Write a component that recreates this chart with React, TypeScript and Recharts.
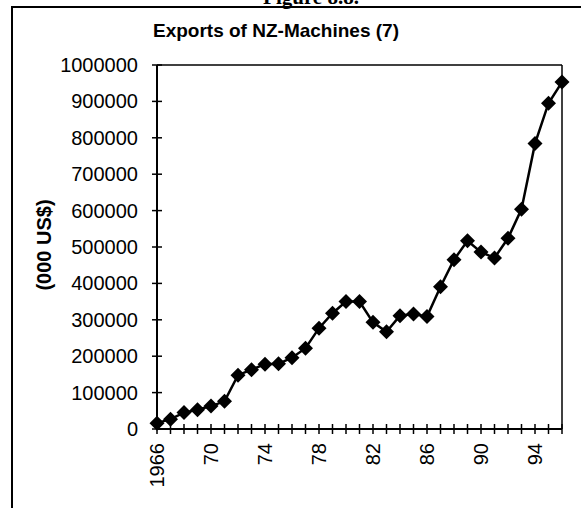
import React from 'react';
import { LineChart, Line, XAxis, YAxis, ReferenceLine } from 'recharts';

const years = [
  1966, 1967, 1968, 1969, 1970, 1971, 1972, 1973, 1974, 1975, 1976,
  1977, 1978, 1979, 1980, 1981, 1982, 1983, 1984, 1985, 1986, 1987,
  1988, 1989, 1990, 1991, 1992, 1993, 1994, 1995, 1996,
];
const exportsValues = [
  16000, 27000, 45000, 53000, 63000, 76000, 148000, 163000, 178000, 179000, 196000,
  222000, 277000, 318000, 350000, 350000, 293000, 267000, 311000, 316000, 309000, 391000,
  465000, 517000, 486000, 470000, 524000, 604000, 784000, 895000, 953000,
];
const yTicks = [0, 100000, 200000, 300000, 400000, 500000, 600000, 700000, 800000, 900000, 1000000];
const labelledYears = [1966, 1970, 1974, 1978, 1982, 1986, 1990, 1994];

const data = years.map((year, i) => ({ year, value: exportsValues[i] }));

const font = '"Liberation Sans", Arial, sans-serif';

const YTick = (props: any) => {
  const { x, y, payload } = props;
  return (
    <g>
      <line x1={x - 5} x2={x + 5} y1={y} y2={y} stroke="#000" strokeWidth={1.5} />
      <text x={x - 19} y={y} dy="0.35em" textAnchor="end" fontSize={20} fontFamily={font} fill="#000">
        {payload.value}
      </text>
    </g>
  );
};

const XTick = (props: any) => {
  const { x, y, payload } = props;
  const yr = payload.value;
  const label = yr === 1966 ? '1966' : labelledYears.includes(yr) ? String(yr).slice(2) : '';
  return (
    <g>
      <line x1={x} x2={x} y1={y - 5} y2={y + 5} stroke="#000" strokeWidth={1.5} />
      {label && (
        <text
          x={x}
          y={y + 14}
          dy="0.35em"
          textAnchor="end"
          transform={`rotate(-90, ${x}, ${y + 14})`}
          fontSize={20}
          fontFamily={font}
          fill="#000"
        >
          {label}
        </text>
      )}
    </g>
  );
};

const Diamond = (props: any) => {
  const { cx, cy, index } = props;
  const r = 7.5;
  return (
    <path
      key={index}
      d={`M${cx},${cy - r} L${cx + r},${cy} L${cx},${cy + r} L${cx - r},${cy} Z`}
      fill="#000"
    />
  );
};

export default function App() {
  return (
    <div style={{ position: 'absolute', left: 0, top: 0, width: 581, height: 508, background: '#fff', overflow: 'hidden' }}>
      <div
        style={{
          position: 'absolute', left: 11, top: 6, width: 600, height: 600,
          borderTop: '2px solid #000', borderLeft: '2px solid #000',
        }}
      />
      <LineChart width={581} height={508} data={data} margin={{ top: 65, right: 19, left: 0, bottom: 0 }}>
        <text x={311} y={4} textAnchor="middle" fontSize={21} fontWeight="bold" fontFamily='"Liberation Serif", "Times New Roman", serif' fill="#000">
          Figure 8.8.
        </text>
        <text x={276} y={37} textAnchor="middle" fontSize={19} fontWeight="bold" fontFamily={font} fill="#000">
          Exports of NZ-Machines (7)
        </text>
        <text
          x={44}
          y={245}
          textAnchor="middle"
          dy="0.35em"
          transform="rotate(-90, 44, 245)"
          fontSize={20}
          fontWeight="bold"
          fontFamily={font}
          fill="#000"
        >
          (000 US$)
        </text>
        <XAxis
          dataKey="year"
          type="number"
          domain={[1966, 1996]}
          ticks={years}
          interval={0}
          height={79}
          tickSize={0}
          tickMargin={0}
          tick={<XTick />}
          axisLine={{ stroke: '#000', strokeWidth: 2 }}
        />
        <YAxis
          domain={[0, 1000000]}
          ticks={yTicks}
          interval={0}
          width={157}
          tickSize={0}
          tickMargin={0}
          tick={<YTick />}
          axisLine={{ stroke: '#000', strokeWidth: 2 }}
        />
        <ReferenceLine y={1000000} stroke="#000" strokeWidth={1.5} />
        <ReferenceLine x={1996} stroke="#000" strokeWidth={1.5} />
        <Line
          type="linear"
          dataKey="value"
          stroke="#000"
          strokeWidth={2.5}
          dot={<Diamond />}
          activeDot={false}
          isAnimationActive={false}
        />
      </LineChart>
    </div>
  );
}
